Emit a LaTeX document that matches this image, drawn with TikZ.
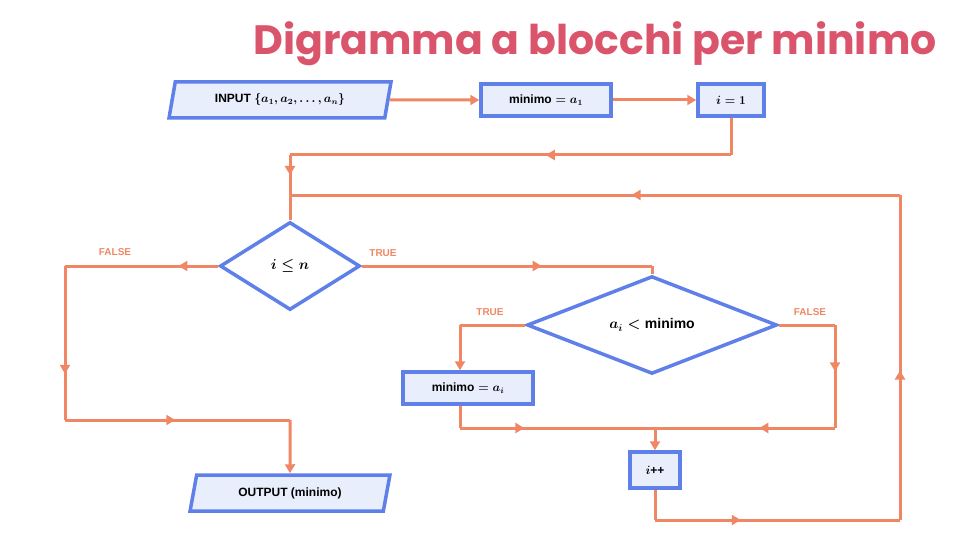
\documentclass[tikz,border=0pt]{standalone}
\usepackage{amsmath}
\usepackage{fontspec}
\usetikzlibrary{shapes.geometric,arrows.meta,decorations.markings}
\newfontfamily\titlefont{Poppins}
\newfontfamily\boxfont{Liberation Sans}
\definecolor{lineC}{RGB}{240,135,100}
\definecolor{blueC}{RGB}{95,128,232}
\definecolor{fillC}{RGB}{232,238,252}
\definecolor{titleC}{RGB}{218,84,108}
\tikzset{
  flow/.style={draw=lineC, line width=3pt},
  endarrow/.style={-{Triangle[length=9pt,width=10pt]}},
  midarrow/.style={postaction={decorate, decoration={markings,
      mark=at position #1 with {\arrow{Triangle[length=9pt,width=10pt]}}}}},
  midarrow/.default=0.5,
  base/.style={draw=blueC, line width=3.5pt, text=black, inner sep=2pt,
      font=\boxfont\bfseries\fontsize{12}{14}\selectfont},
  proc/.style={base, rectangle, fill=fillC, minimum height=32pt},
  io/.style={base, trapezium, trapezium left angle=76, trapezium right angle=104,
      trapezium stretches=true, fill=fillC, minimum height=36pt},
  dec/.style={base, diamond, fill=white, inner sep=0pt,
      font=\boxfont\bfseries\fontsize{14}{16}\selectfont},
  lbl/.style={text=lineC, font=\boxfont\bfseries\fontsize{10}{12}\selectfont},
}
\begin{document}
\begin{tikzpicture}[x=1pt,y=-1pt]
\useasboundingbox (0,0) rectangle (960,540);
\node[text=titleC, font=\titlefont\bfseries\fontsize{41}{48}\selectfont] (title) at (595,44) {Digramma a blocchi per minimo};

\node[io, minimum width=222pt] (in) at (280,100) {INPUT $\boldsymbol{\{a_1,a_2,\ldots,a_n\}}$};
\node[proc, minimum width=130pt] (m1) at (546,100) {minimo$\boldsymbol{{}=a_1}$};
\node[proc, minimum width=66pt] (i1) at (731,100) {$\boldsymbol{i=1}$};
\node[dec, minimum width=140pt, minimum height=88pt] (d1) at (290,266) {$\boldsymbol{i\le n}$};
\node[dec, minimum width=250pt, minimum height=94pt] (d2) at (652,325) {$\boldsymbol{a_i<{}}$minimo};
\node[proc, minimum width=130pt] (m2) at (468,388) {minimo$\boldsymbol{{}=a_i}$};
\node[proc, minimum width=50pt, minimum height=36pt] (inc) at (655,470) {$\boldsymbol{i}$++};
\node[io, minimum width=200pt] (out) at (290,493) {OUTPUT (minimo)};

\coordinate (c1) at (731,155);
\coordinate (c2) at (290,155);
\coordinate (j) at (290,195);
\coordinate (r1) at (900,520);
\coordinate (r2) at (900,195);
\coordinate (b1) at (655,520);
\coordinate (f1) at (65,266);
\coordinate (f2) at (65,420);
\coordinate (f3) at (290,420);
\coordinate (t1) at (652,266);
\coordinate (tl) at (460,325);
\coordinate (fr) at (835,325);
\coordinate (fb) at (835,428);
\coordinate (mj) at (655,428);
\coordinate (ml) at (460,428);

\draw[flow, endarrow] (in.east) -- (m1.west);
\draw[flow, endarrow] (m1.east) -- (i1.west);
\draw[flow] (i1.south) -- (c1);
\draw[flow, midarrow=0.42] (c1) -- (c2);
\draw[flow, midarrow=0.5] (c2) -- (j);
\draw[flow] (j) -- (d1.north);

\draw[flow, midarrow=0.26] (d1.west) -- (f1);
\draw[flow, midarrow=0.7] (f1) -- (f2);
\draw[flow, midarrow=0.49] (f2) -- (f3);
\draw[flow, endarrow] (f3) -- (out.north);
\node[lbl] (lf1) at (115,252) {FALSE};

\draw[flow, midarrow=0.62] (d1.east) -- (t1);
\draw[flow] (t1) -- (d2.north);
\node[lbl] (lt1) at (383,253) {TRUE};

\draw[flow] (d2.west) -- (tl);
\draw[flow, endarrow] (tl) -- (tl |- m2.north);
\node[lbl] (lt2) at (490,312) {TRUE};

\draw[flow] (d2.east) -- (fr);
\draw[flow, midarrow=0.45] (fr) -- (fb);
\draw[flow, midarrow=0.42] (fb) -- (mj);
\node[lbl] (lf2) at (810,312) {FALSE};

\draw[flow] (ml |- m2.south) -- (ml);
\draw[flow, midarrow=0.33] (ml) -- (mj);
\draw[flow, endarrow] (mj) -- (inc.north);

\draw[flow] (inc.south) -- (b1);
\draw[flow, midarrow=0.35] (b1) -- (r1);
\draw[flow, midarrow=0.46] (r1) -- (r2);
\draw[flow, midarrow=0.44] (r2) -- (j);
\end{tikzpicture}
\end{document}
